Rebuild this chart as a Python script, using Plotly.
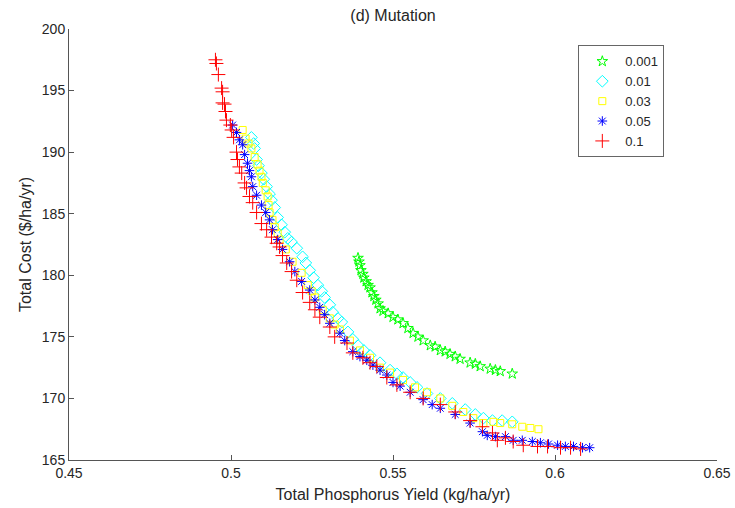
import plotly.graph_objects as go

# Mutation rate series (legend labels)
labels = ["0.001", "0.01", "0.03", "0.05", "0.1"]

# 0.001
x_0001 = [0.5392, 0.5395, 0.5398, 0.5401, 0.5407, 0.5410, 0.5417, 0.5423, 0.5429, 0.5435,
          0.5441, 0.5447, 0.5454, 0.5460, 0.5469, 0.5485, 0.5500, 0.5515, 0.5531, 0.5546,
          0.5562, 0.5577, 0.5593, 0.5615, 0.5630, 0.5646, 0.5661, 0.5676, 0.5692, 0.5707,
          0.5738, 0.5754, 0.5769, 0.5800, 0.5816, 0.5831, 0.5868]
y_0001 = [181.4, 181.1, 180.8, 180.4, 180.1, 179.8, 179.5, 179.2, 179.0, 178.6,
          178.3, 178.0, 177.7, 177.3, 177.1, 176.9, 176.6, 176.4, 176.1, 175.7,
          175.3, 175.0, 174.7, 174.3, 174.2, 173.9, 173.8, 173.6, 173.4, 173.2,
          172.9, 172.8, 172.6, 172.4, 172.3, 172.2, 172.0]

# 0.01
x_001 = [0.5063, 0.5070, 0.5073, 0.5079, 0.5085, 0.5094, 0.5101, 0.5110, 0.5119, 0.5125,
         0.5135, 0.5144, 0.5156, 0.5166, 0.5175, 0.5187, 0.5203, 0.5221, 0.5231, 0.5243,
         0.5255, 0.5268, 0.5280, 0.5289, 0.5305, 0.5314, 0.5330, 0.5342, 0.5361, 0.5376,
         0.5392, 0.5410, 0.5429, 0.5460, 0.5491, 0.5512, 0.5531, 0.5553, 0.5574, 0.5605,
         0.5646, 0.5683, 0.5723, 0.5754, 0.5779, 0.5807, 0.5837, 0.5868]
y_001 = [191.2, 190.7, 190.3, 189.4, 188.9, 188.3, 187.8, 187.2, 186.6, 186.1,
         185.5, 184.7, 184.1, 183.5, 183.0, 182.7, 182.2, 181.5, 181.0, 180.4,
         179.8, 179.2, 178.7, 178.2, 177.6, 177.0, 176.5, 176.2, 175.4, 174.8,
         174.3, 173.9, 173.5, 172.9, 172.3, 172.0, 171.7, 171.3, 170.9, 170.4,
         170.0, 169.6, 169.1, 168.7, 168.4, 168.2, 168.2, 168.1]

# 0.03
x_003 = [0.5036, 0.5045, 0.5054, 0.5063, 0.5073, 0.5082, 0.5088, 0.5094, 0.5098, 0.5107,
         0.5113, 0.5116, 0.5119, 0.5128, 0.5135, 0.5144, 0.5150, 0.5169, 0.5190, 0.5218,
         0.5237, 0.5249, 0.5259, 0.5283, 0.5305, 0.5320, 0.5336, 0.5367, 0.5398, 0.5429,
         0.5460, 0.5491, 0.5531, 0.5568, 0.5605, 0.5646, 0.5683, 0.5717, 0.5748, 0.5779,
         0.5810, 0.5831, 0.5868, 0.5899, 0.5924, 0.5949]
y_003 = [191.8, 191.1, 190.7, 190.3, 189.6, 189.0, 188.5, 188.0, 187.5, 186.9,
         186.4, 185.7, 185.1, 184.5, 183.9, 183.4, 182.9, 182.1, 181.1, 180.2,
         179.2, 178.7, 178.2, 177.2, 176.5, 176.0, 175.6, 174.7, 173.9, 173.3,
         172.5, 172.1, 171.5, 170.9, 170.5, 170.0, 169.4, 168.9, 168.4, 168.0,
         168.1, 168.0, 167.9, 167.7, 167.6, 167.5]

# 0.05
x_005 = [0.5005, 0.5017, 0.5026, 0.5036, 0.5042, 0.5051, 0.5057, 0.5063, 0.5067, 0.5079,
         0.5094, 0.5107, 0.5119, 0.5128, 0.5144, 0.5159, 0.5181, 0.5197, 0.5218, 0.5243,
         0.5259, 0.5274, 0.5289, 0.5305, 0.5336, 0.5351, 0.5376, 0.5398, 0.5419, 0.5438,
         0.5460, 0.5481, 0.5500, 0.5522, 0.5553, 0.5593, 0.5621, 0.5646, 0.5692, 0.5738,
         0.5776, 0.5791, 0.5816, 0.5847, 0.5871, 0.5899, 0.5930, 0.5955, 0.5980, 0.6008,
         0.6032, 0.6057, 0.6085, 0.6107]
y_005 = [192.2, 191.6, 191.0, 190.6, 189.8, 189.1, 188.5, 188.0, 187.2, 186.5,
         185.7, 185.1, 184.5, 183.7, 182.9, 182.1, 181.1, 180.3, 179.5, 178.8,
         178.0, 177.4, 176.8, 176.1, 175.3, 174.7, 173.8, 173.4, 173.1, 172.7,
         172.3, 171.9, 171.3, 171.0, 170.5, 169.9, 169.5, 169.2, 168.7, 168.0,
         167.3, 167.0, 166.9, 166.9, 166.6, 166.6, 166.5, 166.4, 166.3, 166.2,
         166.1, 166.1, 166.0, 166.0]

# 0.1
x_01 = [0.4952, 0.4955, 0.4961, 0.4971, 0.4974, 0.4974, 0.4980, 0.4983, 0.4986, 0.4998,
        0.5002, 0.5008, 0.5017, 0.5020, 0.5026, 0.5033, 0.5042, 0.5048, 0.5057, 0.5067,
        0.5079, 0.5094, 0.5110, 0.5125, 0.5141, 0.5150, 0.5159, 0.5172, 0.5187, 0.5203,
        0.5221, 0.5243, 0.5259, 0.5274, 0.5305, 0.5320, 0.5358, 0.5376, 0.5407, 0.5429,
        0.5450, 0.5481, 0.5512, 0.5553, 0.5593, 0.5646, 0.5692, 0.5738, 0.5776, 0.5807,
        0.5822, 0.5847, 0.5871, 0.5902, 0.5946, 0.5977, 0.6017, 0.6048, 0.6079]
y_01 = [197.5, 197.2, 196.3, 195.2, 194.9, 194.0, 193.9, 193.3, 192.6, 192.2,
        191.8, 191.2, 190.0, 189.4, 188.8, 188.3, 187.5, 187.1, 186.4, 185.9,
        185.1, 184.2, 183.7, 183.1, 182.6, 182.3, 181.6, 181.0, 180.3, 179.6,
        178.6, 177.8, 177.2, 176.6, 175.8, 175.0, 174.5, 173.7, 173.3, 172.9,
        172.6, 171.7, 171.1, 170.5, 170.0, 169.5, 168.9, 168.2, 167.7, 167.2,
        166.6, 166.8, 166.5, 166.2, 166.1, 166.1, 166.0, 166.0, 165.9]

x_ticks = [0.45, 0.5, 0.55, 0.6, 0.65]
x_tick_text = ["0.45", "0.5", "0.55", "0.6", "0.65"]
y_ticks = [165, 170, 175, 180, 185, 190, 195, 200]

series = [
    (x_0001, y_0001, "#00ff00", "star-open", 8),
    (x_001, y_001, "#00ffff", "diamond-open", 9),
    (x_003, y_003, "#ffff00", "square-open", 7),
    (x_005, y_005, "#0000ff", "asterisk-open", 8),
    (x_01, y_01, "#ff0000", "cross-thin-open", 10),
]

fig = go.Figure()
for (xs, ys, col, sym, sz), name in zip(series, labels):
    fig.add_trace(go.Scatter(
        x=xs, y=ys, mode="markers", name=name,
        marker=dict(symbol=sym, size=sz, color=col, line=dict(color=col, width=1)),
    ))

font_family = "Liberation Sans, Arial, sans-serif"
axis_col = "#555555"
fig.update_layout(
    width=735, height=508,
    margin=dict(l=69, r=18, t=29, b=48, autoexpand=False),
    paper_bgcolor="white", plot_bgcolor="white",
    font=dict(family=font_family, size=14, color="#262626"),
    title=dict(text="(d) Mutation", x=(69 + 717) / 2 / 735, xanchor="center",
               y=1 - 15 / 508, yanchor="middle", yref="container",
               font=dict(size=16, color="#262626")),
    legend=dict(x=0.786, y=0.962, xanchor="left", yanchor="top",
                bordercolor="#666666", borderwidth=1, bgcolor="white",
                font=dict(size=13, color="#262626"),
                itemwidth=36, tracegroupgap=0),
    showlegend=True,
)
fig.update_xaxes(
    range=[0.45, 0.65], tickvals=x_ticks, ticktext=x_tick_text,
    showline=True, linecolor=axis_col, linewidth=1, mirror=False,
    ticks="inside", ticklen=5, tickcolor=axis_col, showgrid=False, zeroline=False,
    tickfont=dict(size=14), automargin=False,
    title=dict(text="Total Phosphorus Yield (kg/ha/yr)", font=dict(size=16), standoff=9),
)
fig.update_yaxes(
    range=[165, 200], tickvals=y_ticks,
    showline=True, linecolor=axis_col, linewidth=1, mirror=False,
    ticks="inside", ticklen=5, tickcolor=axis_col, showgrid=False, zeroline=False,
    tickfont=dict(size=14), automargin=False,
    title=dict(text="Total Cost ($/ha/yr)", font=dict(size=16), standoff=6),
)

fig.write_html("out.html")
